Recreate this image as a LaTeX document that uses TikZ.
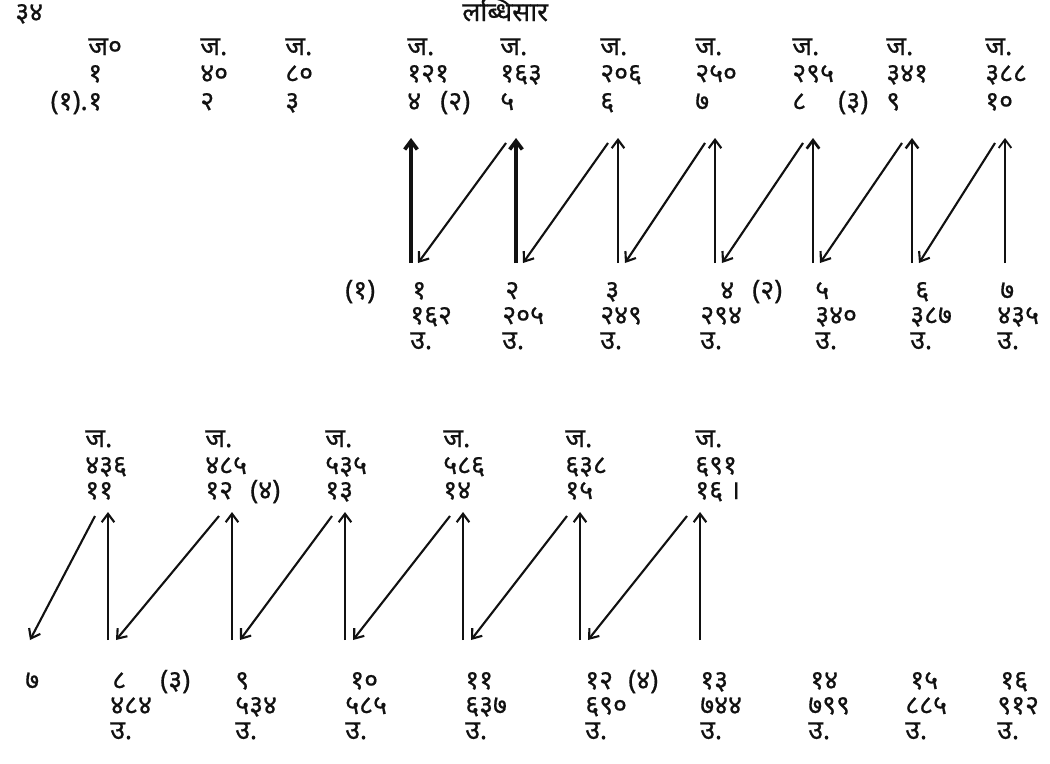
\documentclass[tikz,border=0pt]{standalone}
\usepackage{fontspec}
\newfontfamily\dev[Script=Devanagari, FakeBold=0.6]{Noto Sans}
\usetikzlibrary{arrows.meta}
\definecolor{inkblack}{HTML}{111111}

\tikzset{
  lbl/.style={anchor=base west, inner sep=0pt, text=inkblack, font=\dev\fontsize{19}{23}\selectfont},
  upar/.style={draw=inkblack, line width=1.5pt, -{Straight Barb[length=6pt,width=9pt]}}
}

\begin{document}
\begin{tikzpicture}[x=0.025cm, y=-0.025cm] %1 unit = 1 pixel of the 1050x763 sheet, y runs down
\useasboundingbox (0,0) rectangle (1050,763); %Sheet size
\node[lbl] (page) at (15,21) {३४}; %Page number
\node[lbl] (head) at (462,21) {लब्धिसार}; %Running head

%First strip, upper labels
\foreach \x/\a/\b/\c [count=\i] in {88/ज०/१/१, 200/ज./४०/२, 285/ज./८०/३, 407/ज./१२१/४, 500/ज./१६३/५, 600/ज./२०६/६, 695/ज./२५०/७, 792/ज./२९५/८, 886/ज./३४१/९, 985/ज./३८८/१०}{
  \node[lbl] (ja\i) at (\x,55) {\a};
  \node[lbl] (na\i) at (\x,82) {\b};
  \node[lbl] (ka\i) at (\x,110) {\c};
}
\node[lbl, anchor=base east] (pa) at (ka1.base west) {(१).};
\node[lbl] (pb) at (440,110) {(२)};
\node[lbl] (pc) at (838,110) {(३)};

%First strip, lower labels
\foreach \y/\x/\a/\b [count=\i] in {412/410/१/१६२, 505/502/२/२०५, 605/600/३/२४९, 720/700/४/२९४, 815/815/५/३४०, 915/910/६/३८७, 1000/997/७/४३५}{
  \node[lbl] (kb\i) at (\y,299) {\a};
  \node[lbl] (nb\i) at (\x,324) {\b};
  \node[lbl] (ub\i) at (\x,349) {उ.};
}
\node[lbl] (pd) at (345,299) {(१)};
\node[lbl] (pe) at (752,299) {(२)};

%First strip, arrows
\foreach \x [count=\i] in {411,516,618,715,813,912,1005}{
  \coordinate (lo\i) at (\x,263);
  \coordinate (hi\i) at (\x,138);
  \coordinate (dt\i) at (\x-10,143);
  \coordinate (db\i) at (\x+7,263);
}
\foreach \i/\w in {1/2.6,2/2.6,3/1.5,4/1.5,5/1.9,6/1.7,7/1.3}
  \draw[upar, line width=\w pt] (lo\i) -- (hi\i); %Rising arrows
\foreach \i/\j in {1/2,2/3,3/4,4/5,5/6,6/7}
  \draw[upar] (dt\j) -- (db\i); %Falling arrows

%Second strip, upper labels
\foreach \x/\b/\c [count=\i] in {85/४३६/११, 205/४८५/१२, 325/५३५/१३, 443/५८६/१४, 565/६३८/१५, 695/६९१/१६ ।}{
  \node[lbl] (jc\i) at (\x,447) {ज.};
  \node[lbl] (nc\i) at (\x,474) {\b};
  \node[lbl] (kc\i) at (\x,499) {\c};
}
\node[lbl] (pf) at (250,499) {(४)};

%Second strip, lower labels
\node[lbl] (kd0) at (25,689) {७};
\foreach \y/\x/\a/\b [count=\i] in {112/110/८/४८४, 235/235/९/५३४, 350/345/१०/५८५, 465/465/११/६३७, 585/585/१२/६९०, 700/700/१३/७४४, 810/808/१४/७९९, 910/905/१५/८८५, 1000/997/१६/९१२}{
  \node[lbl] (kd\i) at (\y,689) {\a};
  \node[lbl] (nd\i) at (\x,714) {\b};
  \node[lbl] (ud\i) at (\x,739) {उ.};
}
\node[lbl] (pg) at (160,689) {(३)};
\node[lbl] (ph) at (628,689) {(४)};

%Second strip, arrows
\foreach \x [count=\i] in {108,232,345,463,580,700}{
  \coordinate (lw\i) at (\x,640);
  \coordinate (up\i) at (\x,512);
  \coordinate (et\i) at (\x-13,516);
  \coordinate (eb\i) at (\x+8,640);
}
\coordinate (eb0) at (30,640);
\foreach \i in {1,...,6}
  \draw[upar] (lw\i) -- (up\i); %Rising arrows
\foreach \i/\j in {0/1,1/2,2/3,3/4,4/5,5/6}
  \draw[upar] (et\j) -- (eb\i); %Falling arrows
\end{tikzpicture}
\end{document}
